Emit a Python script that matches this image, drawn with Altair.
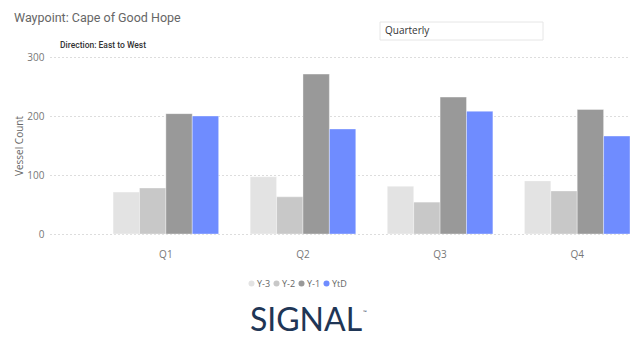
import altair as alt
import pandas as pd

quarters = ["Q1", "Q2", "Q3", "Q4"]
series = ["Y-3", "Y-2", "Y-1", "YtD"]
y3 = [71, 97, 81, 90]
y2 = [78, 63, 54, 73]
y1 = [204, 271, 232, 211]
ytd = [200, 178, 208, 166]
colors = ["#e3e3e3", "#c8c8c8", "#999999", "#6f8cff"]

rows = []
for name, vals in zip(series, [y3, y2, y1, ytd]):
    for q, v in zip(quarters, vals):
        rows.append({"quarter": q, "series": name, "count": v})
df = pd.DataFrame(rows)

W, H = 580, 177

bars = alt.Chart(df).mark_bar(stroke="white", strokeWidth=0.6, strokeOpacity=0.6).encode(
    x=alt.X("quarter:N", sort=quarters, title=None,
            scale=alt.Scale(paddingInner=0.23, paddingOuter=0.23, align=1),
            axis=alt.Axis(labelAngle=0, ticks=False, domain=False, labelPadding=15,
                          labelColor="#777777", labelFontSize=10, labelFont="Open Sans")),
    xOffset=alt.XOffset("series:N", sort=series, scale=alt.Scale(paddingInner=0, paddingOuter=0)),
    y=alt.Y("count:Q", scale=alt.Scale(domain=[0, 300]), title="Vessel Count",
            axis=alt.Axis(values=[0, 100, 200, 300], ticks=False, domain=False,
                          gridDash=[1, 3], gridColor="#bbbbbb", labelColor="#777777",
                          labelFontSize=10, labelFont="Open Sans", labelPadding=6,
                          titleColor="#666666", titleFontSize=10, titleFont="Open Sans",
                          titleFontWeight="normal", titleX=-26, titleY=H / 2, titleAngle=-90)),
    color=alt.Color("series:N", sort=series, scale=alt.Scale(domain=series, range=colors),
                    legend=alt.Legend(title=None, orient="none", direction="horizontal",
                                      legendX=197, legendY=222, symbolType="circle",
                                      symbolSize=36, labelFontSize=9, labelColor="#666666",
                                      labelFont="Open Sans", columnPadding=1, labelOffset=1,
                                      gridAlign="none", symbolStrokeWidth=0)),
)

one = pd.DataFrame({"k": [0]})

def txt(text, x, y, size, color, weight="normal", font="Roboto", align="left", baseline="alphabetic"):
    return alt.Chart(one).mark_text(text=text, fontSize=size, color=color, fontWeight=weight,
                                    font=font, align=align, baseline=baseline).encode(
        x=alt.value(x), y=alt.value(y))

title = txt("Waypoint: Cape of Good Hope", -36, -35, 12.5, "#666666")
subtitle = txt("Direction: East to West", 10, -9, 8.5, "#333333", weight=500)
box = alt.Chart(one).mark_rect(fill="white", stroke="#e6e6e6", strokeWidth=1).encode(
    x=alt.value(330), x2=alt.value(493), y=alt.value(-35), y2=alt.value(-17))
boxtext = txt("Quarterly", 335, -26, 10, "#333333", font="Open Sans", baseline="middle")
logo = txt("SIGNAL", 256, 274, 32, "#1f3656", font="Lato", align="center")
tm = txt("™", 313, 257, 5, "#1f3656", font="Lato")

chart = alt.layer(bars, box, boxtext, title, subtitle, logo, tm).properties(
    width=W, height=H,
    autosize=alt.AutoSizeParams(type="none"),
    padding={"left": 50, "top": 57, "right": 9, "bottom": 103},
).configure_view(stroke=None)

chart.save("out.html", embed_options={"renderer": "svg", "actions": False})
